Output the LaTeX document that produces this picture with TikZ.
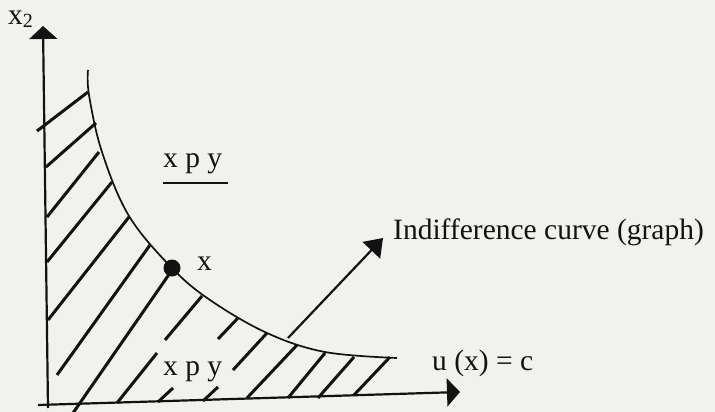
\documentclass[tikz,border=0pt]{standalone}
\usepackage{fontspec}
\setmainfont{Liberation Serif}
\usetikzlibrary{arrows.meta}
\definecolor{ink}{RGB}{18,18,18}
\definecolor{paper}{RGB}{241,241,237}
\newcommand{\lblfont}{\fontsize{29.5}{34}\selectfont}
\begin{document}
\begin{tikzpicture}[x=1pt,y=-1pt,
  axisline/.style={draw=ink,line width=2.2pt,-{Triangle[length=13pt,width=28pt]}},
  ptr/.style={draw=ink,line width=2.2pt,-{Triangle[length=17pt,width=24pt]}},
  hatch/.style={draw=ink,line width=3pt},
  icurve/.style={draw=ink,line width=1.7pt},
  lbl/.style={inner sep=0pt,anchor=base west,font=\lblfont,text=ink}]
\fill[paper] (0,0) rectangle (715,412);
\useasboundingbox (0,0) rectangle (715,412);
% axes
\coordinate (o1) at (48,408);
\coordinate (ytip) at (43,26);
\coordinate (o2) at (38,405);
\coordinate (xtip) at (460,392);
\draw[axisline] (o1) -- (ytip);
\draw[axisline] (o2) -- (xtip);
% hatching
\draw[hatch] (37,131) -- (88,92);
\draw[hatch] (46,167) -- (96,123);
\draw[hatch] (47,217) -- (99,152);
\draw[hatch] (47,262) -- (112,182);
\draw[hatch] (48,320) -- (129,217);
\draw[hatch] (57,375) -- (150,245);
\draw[hatch] (73,413) -- (170,273);
\draw[hatch] (117,403) -- (157,353);
\draw[hatch] (165,340) -- (202,296);
\draw[hatch] (158,402) -- (173,388);
\draw[hatch] (218,339) -- (238,318);
\draw[hatch] (203,401) -- (218,387);
\draw[hatch] (233,370) -- (267,333);
\draw[hatch] (247,398) -- (297,345);
\draw[hatch] (288,398) -- (325,353);
\draw[hatch] (318,398) -- (354,357);
\draw[hatch] (354,395) -- (390,357);
% indifference curve
\draw[icurve] plot[smooth,tension=0.6] coordinates {(88,70) (89,95) (102,152) (129,216) (172,268) (210,300) (267,333) (325,352) (397,358)};
% point x
\node[circle,fill=ink,inner sep=0pt,minimum size=17pt] (pt) at (172,268) {};
\node[lbl] (xlab) at (197,270) {x};
% labels
\node[lbl] (x2) at (8,25) {x\raisebox{-3pt}{\fontsize{20}{20}\selectfont 2}};
\node[lbl] (top) at (163,167) {x p y};
\draw[draw=ink,line width=2.2pt] (163,183) -- (228,183);
\node[lbl] (bot) at (163,375) {x p y};
\node[lbl] (ucap) at (432,370) {u (x) = c};
\node[lbl] (ind) at (393,239) {Indifference curve (graph)};
\coordinate (icstart) at (288,338);
\coordinate (ictip) at (383,238);
\draw[ptr] (icstart) -- (ictip);
\end{tikzpicture}
\end{document}
